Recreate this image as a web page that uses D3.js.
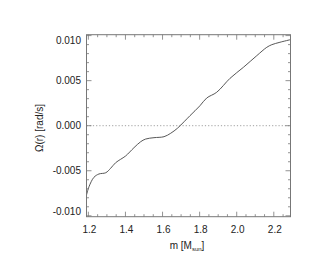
<!DOCTYPE html>
<html><head><meta charset="utf-8">
<script src="https://cdn.jsdelivr.net/npm/d3@7/dist/d3.min.js"></script>
<style>
html,body{margin:0;padding:0;background:#fff;}
svg text{font-family:"Liberation Sans",Arial,Helvetica,sans-serif;fill:#222;}
</style></head><body>
<svg id="c" width="327" height="273"></svg>
<script>
const mass = [1.19,1.2035,1.230,1.257,1.294,1.320,1.347,1.374,1.401,1.446,1.482,1.509,1.554,1.608,1.644,1.680,1.716,1.748,1.802,1.838,1.892,1.964,2.036,2.108,2.162,2.189,2.233,2.29];
const omega = [-0.00769,-0.00677,-0.00573,-0.00536,-0.00522,-0.00473,-0.00411,-0.00373,-0.00336,-0.00244,-0.00178,-0.00148,-0.00133,-0.00122,-0.00084,-0.00029,0.00044,0.00111,0.00222,0.00307,0.00371,0.00526,0.00648,0.00777,0.00870,0.00899,0.00926,0.00955];
const xTicks = [1.2,1.4,1.6,1.8,2.0,2.2];
const yTicks = [-0.010,-0.005,0.000,0.005,0.010];

const L=86.5,R=290.5,T=34.7,B=216.7;
const svg=d3.select("#c");
const x=d3.scaleLinear().domain([1.19,2.29]).range([L,R]);
const y=d3.scaleLinear().domain([-0.0101,0.0101]).range([B,T]);
const frameCol="#777";

// zero line
svg.append("line").attr("x1",L).attr("x2",R).attr("y1",y(0)).attr("y2",y(0))
  .attr("stroke","#888").attr("stroke-width",0.8).attr("stroke-dasharray","1.2,2");

// curve
const data=mass.map((m,i)=>[m,omega[i]]);
svg.append("path").datum(data)
  .attr("d",d3.line().x(d=>x(d[0])).y(d=>y(d[1])).curve(d3.curveCatmullRom))
  .attr("fill","none").attr("stroke","#444").attr("stroke-width",0.9);

// frame
svg.append("rect").attr("x",L).attr("y",T).attr("width",R-L).attr("height",B-T)
  .attr("fill","none").attr("stroke",frameCol).attr("stroke-width",1);

// minor ticks
const xMinor=d3.range(1.20,2.2901,0.05);
const yMinor=d3.range(-0.010,0.01001,0.001);
const g=svg.append("g").attr("stroke",frameCol).attr("stroke-width",0.8);
xMinor.forEach(v=>{
  const major=xTicks.some(t=>Math.abs(t-v)<1e-6);
  const len=major?5:2.5;
  g.append("line").attr("x1",x(v)).attr("x2",x(v)).attr("y1",B).attr("y2",B-len);
  g.append("line").attr("x1",x(v)).attr("x2",x(v)).attr("y1",T).attr("y2",T+len);
});
yMinor.forEach(v=>{
  const major=yTicks.some(t=>Math.abs(t-v)<1e-7);
  const len=major?5:2.5;
  g.append("line").attr("x1",L).attr("x2",L+len).attr("y1",y(v)).attr("y2",y(v));
  g.append("line").attr("x1",R).attr("x2",R-len).attr("y1",y(v)).attr("y2",y(v));
});

// tick labels
svg.append("g").selectAll("text").data(xTicks).join("text")
  .attr("x",d=>x(d)+1).attr("y",233).attr("text-anchor","middle").attr("font-size",10)
  .text(d=>d.toFixed(1));
svg.append("g").selectAll("text").data(yTicks).join("text")
  .attr("x",81).attr("y",d=>y(d)+(d>0.009?4.5:(d<-0.009?-4:0))).attr("dy","0.35em")
  .attr("text-anchor","end").attr("font-size",10)
  .text(d=>d.toFixed(3));

// axis titles
const xt=svg.append("text").attr("x",187).attr("y",249).attr("text-anchor","middle").attr("font-size",10);
xt.append("tspan").text("m [M");
xt.append("tspan").attr("font-size",6).attr("dy",2).text("sun");
xt.append("tspan").attr("dy",-2).text("]");
svg.append("text").attr("transform","translate(43,128) rotate(-90)")
  .attr("text-anchor","middle").attr("font-size",10).text("\u03A9(r) [rad/s]");
</script>
</body></html>
